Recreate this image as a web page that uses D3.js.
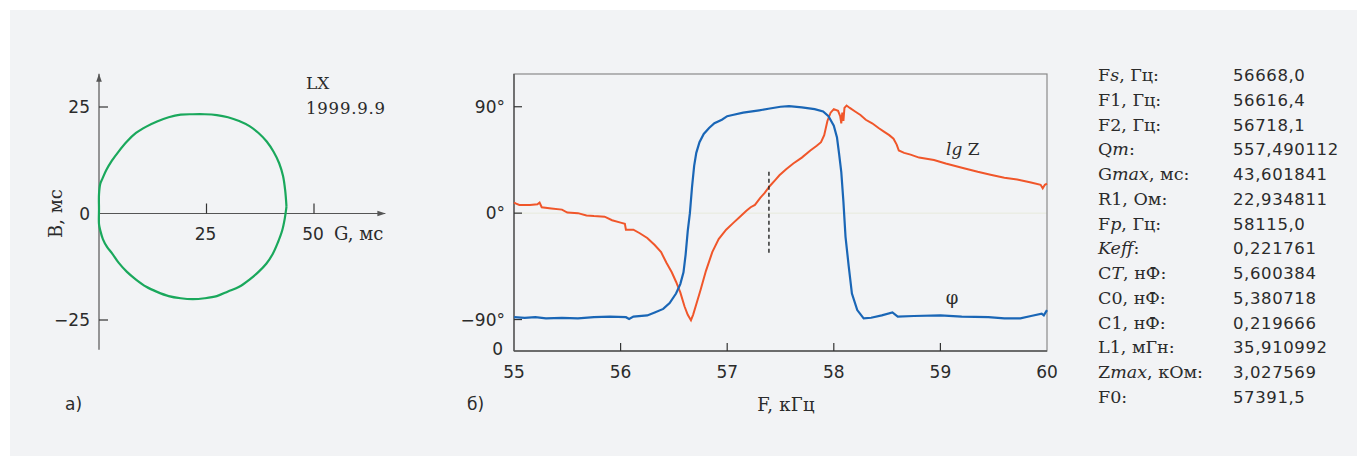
<!DOCTYPE html>
<html><head><meta charset="utf-8">
<script src="https://cdn.jsdelivr.net/npm/d3@7/dist/d3.min.js"></script>
<style>
html,body{margin:0;padding:0;background:#fff;}
svg{display:block;}
.sans{font-family:"DejaVu Sans",sans-serif;}
.serif{font-family:"DejaVu Serif",serif;}
</style></head>
<body>
<svg id="chart" width="1357" height="456"></svg>
<script>
// ---------- DATA ----------
// Panel a): admittance circle (G, mS ; B, mS)
const circleG = [43.6,43.3,42.8,41.9,40.6,39.0,37.1,35.0,32.6,30.0,27.4,24.6,21.8,19.0,16.2,13.5,11.0,8.6,6.5,4.6,3.0,1.7,0.8,0.3,0.0,0.0,0.0,0.3,0.9,1.9,3.0,4.6,6.5,8.6,11.0,13.5,16.2,19.0,21.8,24.6,27.4,30.0,32.6,35.0,37.1,38.9,40.4,41.6,42.6,43.2,43.6];
const circleB = [1.6,5.4,8.8,11.8,14.5,16.9,18.9,20.5,21.7,22.6,23.1,23.3,23.3,23.2,22.6,21.6,20.4,18.9,16.9,14.6,12.4,10.2,8.2,7.0,4.5,1.0,-2.5,-4.0,-6.0,-7.9,-9.3,-11.6,-13.7,-15.5,-17.2,-18.4,-19.4,-19.9,-20.1,-19.9,-19.4,-18.3,-17.2,-15.5,-13.7,-11.8,-9.5,-6.8,-4.0,-1.2,1.6];
const gTicks = [25, 50];
const bTicks = [25, 0, -25];
const bTickLabels = ["25", "0", "\u221225"];

// Panel б): phase φ and lg Z versus frequency (kHz)
const phiF = [55.00,55.10,55.20,55.30,55.45,55.60,55.75,55.90,56.05,56.08,56.12,56.25,56.32,56.40,56.46,56.52,56.56,56.59,56.61,56.63,56.65,56.67,56.69,56.71,56.74,56.78,56.83,56.88,56.95,57.00,57.05,57.15,57.30,57.40,57.50,57.58,57.70,57.82,57.90,57.95,58.00,58.03,58.05,58.07,58.09,58.11,58.14,58.17,58.22,58.28,58.35,58.45,58.55,58.60,58.75,59.00,59.20,59.45,59.60,59.75,59.85,59.95,59.97,60.00];
const phiV = [-88,-88.5,-88,-89,-88.5,-89,-88,-87.5,-88,-89.5,-87.5,-86.5,-84,-81,-76,-68,-60,-50,-35,-15,0,22,40,51,60,67,72,76,79,82,83,85,87,88.5,90,90.5,89.5,88,86,82,74,64,50,35,10,-20,-45,-68,-82,-89,-88.5,-86.5,-84,-87.5,-87,-86.5,-87.5,-88,-89,-89,-87,-85,-86.5,-82];
const lgzF = [55.00,55.02,55.05,55.15,55.22,55.24,55.26,55.35,55.45,55.50,55.60,55.68,55.75,55.85,55.92,56.00,56.04,56.05,56.12,56.18,56.25,56.32,56.38,56.43,56.48,56.52,56.56,56.60,56.63,56.66,56.68,56.71,56.75,56.80,56.86,56.92,56.99,57.06,57.12,57.18,57.22,57.26,57.31,57.35,57.40,57.45,57.49,57.55,57.62,57.70,57.78,57.84,57.88,57.91,57.94,57.97,58.00,58.04,58.06,58.07,58.08,58.09,58.10,58.12,58.15,58.20,58.25,58.30,58.36,58.42,58.47,58.52,58.56,58.59,58.61,58.66,58.72,58.80,58.94,59.05,59.22,59.35,59.47,59.60,59.72,59.85,59.94,59.96,59.98,60.00];
// lg Z drawn in the same plot units as the phase axis
const lgzV = [9,8,7,7,7.5,9,5,4,3,0.5,0,-2,-2.5,-3,-6,-8,-9,-14,-14,-17,-21,-27,-33,-42,-50,-58,-67,-79,-86,-90.5,-86,-77,-65,-49,-33,-22,-14,-8,-3,2,5,7,13,17,23,28,32,37,42,47,53,57,60,66,78,85,88,86.5,82,76,85,78,89,91,89,86,83,79,76,72,69,66,63,58,53,51,49.5,47,45,42,38,35,32.5,30,28.5,26,24,21,24,25];
const freqTicks = [55, 56, 57, 58, 59, 60];
const phaseTicks = [90, 0, -90];
const phaseTickLabels = ["90\u00b0", "0\u00b0", "\u221290\u00b0"];
const phaseDomain = [-116.6, 117.7];
const F0 = 57.3915;
const markerRange = [35, -35];

// Parameters table
const paramSym  = ["F","F","F","Q","G","R","F","K","C","C","C","L","Z","F"];
const paramSub  = ["s","1","2","m","max","1","p","eff","T","0","1","1","max","0"];
const paramUnit = [", Гц",", Гц",", Гц","",", мс",", Ом",", Гц","",", нФ",", нФ",", нФ",", мГн",", кОм",""];
const paramVal  = ["56668,0","56616,4","56718,1","557,490112","43,601841","22,934811","58115,0","0,221761","5,600384","5,380718","0,219666","35,910992","3,027569","57391,5"];

// ---------- DRAW ----------
const svg = d3.select("#chart");
svg.append("rect").attr("x",10).attr("y",10).attr("width",1347).attr("height",446).attr("fill","#f2f3f5");

const axisCol = "#555";
const txt = "#2b2b2b";
const defs = svg.append("defs");
defs.append("marker").attr("id","arr").attr("viewBox","0 0 10 10").attr("refX",10).attr("refY",5)
  .attr("markerWidth",8).attr("markerHeight",8).attr("markerUnits","userSpaceOnUse").attr("orient","auto")
  .append("path").attr("d","M0,1.5 L10,5 L0,8.5 Z").attr("fill",axisCol);

// ----- Panel a -----
const xG = d3.scaleLinear().domain([0,50]).range([99,314]);
const yB = d3.scaleLinear().domain([-25,25]).range([320,107]);
const a = svg.append("g");
a.append("line").attr("x1",xG(0)).attr("x2",xG(0)).attr("y1",yB(-32)).attr("y2",yB(32.8))
  .attr("stroke",axisCol).attr("stroke-width",1.2).attr("marker-end","url(#arr)");
a.append("line").attr("x1",xG(0)).attr("x2",xG(66.6)).attr("y1",yB(0)).attr("y2",yB(0))
  .attr("stroke",axisCol).attr("stroke-width",1.2).attr("marker-end","url(#arr)");
gTicks.forEach(t=>{
  a.append("line").attr("x1",xG(t)).attr("x2",xG(t)).attr("y1",yB(0)).attr("y2",yB(0)-10).attr("stroke","#333").attr("stroke-width",1.2);
  a.append("text").attr("class","sans").attr("x",xG(t)-1).attr("y",yB(0)+26).attr("text-anchor","middle")
    .attr("font-size",17).attr("fill",txt).text(t);
});
bTicks.forEach((t,i)=>{
  if (t!==0) a.append("line").attr("x1",xG(0)).attr("x2",xG(0)+9).attr("y1",yB(t)).attr("y2",yB(t)).attr("stroke","#333").attr("stroke-width",1.2);
  a.append("text").attr("class","sans").attr("x",90).attr("y",yB(t)+6).attr("text-anchor","end")
    .attr("font-size",17).attr("fill",txt).text(bTickLabels[i]);
});
a.append("text").attr("class","serif").attr("x",334).attr("y",yB(0)+26).attr("font-size",18).attr("fill",txt).text("G, мс");
a.append("text").attr("class","serif").attr("transform",`translate(62,${yB(0)}) rotate(-90)`).attr("text-anchor","middle")
  .attr("font-size",18).attr("fill",txt).text("B, мс");
a.append("text").attr("class","serif").attr("x",306).attr("y",89).attr("font-size",17).attr("fill",txt).text("LX");
a.append("text").attr("class","serif").attr("x",306).attr("y",114).attr("font-size",16.5).attr("letter-spacing","0.8px").attr("fill",txt).text("1999.9.9");
a.append("path").datum(d3.range(circleG.length))
  .attr("d", d3.line().x(i=>xG(circleG[i])).y(i=>yB(circleB[i])).curve(d3.curveCatmullRom))
  .attr("fill","none").attr("stroke","#1aa85c").attr("stroke-width",2.2);
a.append("text").attr("class","sans").attr("x",65).attr("y",410).attr("font-size",17).attr("fill",txt).text("а)");

// ----- Panel б -----
const xF = d3.scaleLinear().domain([55,60]).range([514,1047]);
const yP = d3.scaleLinear().domain(phaseDomain).range([351,74]);
const b = svg.append("g");
b.append("line").attr("x1",xF(55)).attr("x2",xF(60)).attr("y1",yP(0)).attr("y2",yP(0)).attr("stroke","#e8eadc").attr("stroke-width",1);
b.append("rect").attr("x",xF(55)).attr("y",yP(phaseDomain[1])).attr("width",xF(60)-xF(55)).attr("height",yP(phaseDomain[0])-yP(phaseDomain[1]))
  .attr("fill","none").attr("stroke","#8a8a8a").attr("stroke-width",1.2);
b.append("line").attr("x1",xF(55)).attr("x2",xF(55)).attr("y1",yP(phaseDomain[0])).attr("y2",yP(phaseDomain[1])).attr("stroke","#555").attr("stroke-width",1.4);
b.append("line").attr("x1",xF(55)).attr("x2",xF(60)).attr("y1",yP(phaseDomain[0])).attr("y2",yP(phaseDomain[0])).attr("stroke","#555").attr("stroke-width",1.4);
freqTicks.forEach(t=>{
  if (t>55 && t<60) b.append("line").attr("x1",xF(t)).attr("x2",xF(t)).attr("y1",yP(phaseDomain[0])).attr("y2",yP(phaseDomain[0])-8).attr("stroke","#333").attr("stroke-width",1.2);
  b.append("text").attr("class","sans").attr("x",xF(t)).attr("y",yP(phaseDomain[0])+27).attr("text-anchor","middle")
    .attr("font-size",17).attr("fill",txt).text(t);
});
phaseTicks.forEach((t,i)=>{
  b.append("line").attr("x1",xF(55)).attr("x2",xF(55)+8).attr("y1",yP(t)).attr("y2",yP(t)).attr("stroke","#333").attr("stroke-width",1.2);
  b.append("text").attr("class","sans").attr("x",505).attr("y",yP(t)+6).attr("text-anchor","end")
    .attr("font-size",17).attr("fill",txt).text(phaseTickLabels[i]);
});
b.append("text").attr("class","sans").attr("x",503).attr("y",yP(phaseDomain[0])+4).attr("text-anchor","end").attr("font-size",17).attr("fill",txt).text("0");

const line = d3.line().x(d=>xF(d[0])).y(d=>yP(d[1]));
b.append("path").datum(lgzF.map((f,i)=>[f,lgzV[i]])).attr("d",line).attr("fill","none").attr("stroke","#f0562a").attr("stroke-width",2);
b.append("path").datum(phiF.map((f,i)=>[f,phiV[i]])).attr("d",line).attr("fill","none").attr("stroke","#1a66b6").attr("stroke-width",2.2);
b.append("line").attr("x1",xF(F0)).attr("x2",xF(F0)).attr("y1",yP(markerRange[0])).attr("y2",yP(markerRange[1]))
  .attr("stroke","#222").attr("stroke-width",1.4).attr("stroke-dasharray","4,3");

const lz = b.append("text").attr("class","serif").attr("x",946).attr("y",155).attr("font-size",17).attr("fill",txt);
lz.append("tspan").attr("font-style","italic").text("lg");
lz.append("tspan").text(" Z");
b.append("text").attr("class","serif").attr("x",952).attr("y",304).attr("text-anchor","middle").attr("font-size",18).attr("fill",txt).text("φ");
b.append("text").attr("class","serif").attr("x",786).attr("y",411).attr("text-anchor","middle").attr("font-size",18).attr("letter-spacing","0.3px").attr("fill",txt).text("F, кГц");
b.append("text").attr("class","sans").attr("x",467).attr("y",410).attr("font-size",17).attr("fill",txt).text("б)");

// ----- Parameters -----
const p = svg.append("g");
paramSym.forEach((s,i)=>{
  const y = 81 + i*24.77;
  const t = p.append("text").attr("class","serif").attr("x",1098).attr("y",y).attr("font-size",17.5).attr("fill",txt);
  const allItalic = s==="K";
  t.append("tspan").attr("font-style", allItalic ? "italic" : "normal").text(s);
  t.append("tspan").attr("font-style", /^[a-zT]+$/.test(paramSub[i]) ? "italic" : "normal").text(paramSub[i]);
  t.append("tspan").text(paramUnit[i] + ":");
  p.append("text").attr("class","sans").attr("x",1233).attr("y",y).attr("font-size",16.5).attr("letter-spacing","0.6px").attr("fill",txt).text(paramVal[i]);
});
</script>
</body></html>
